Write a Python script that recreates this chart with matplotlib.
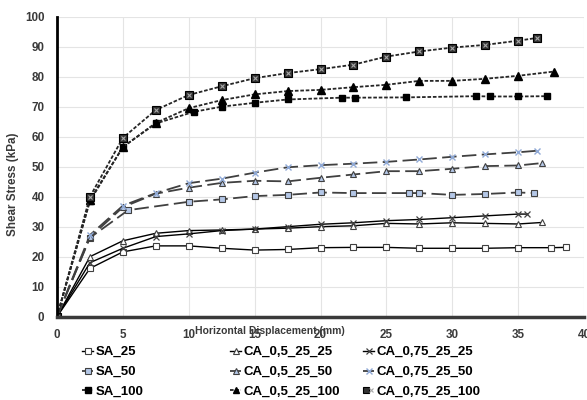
import matplotlib
matplotlib.use('Agg')
import matplotlib.pyplot as plt
from matplotlib.legend_handler import HandlerTuple

plt.rcParams['font.family'] = ['Liberation Sans', 'DejaVu Sans']

# data (x = horizontal displacement mm, y = shear stress kPa)
sa25_x = [0, 2.5, 5, 7.5, 10, 12.5, 15, 17.5, 20, 22.5, 25, 27.5, 30, 32.5, 35, 37.5, 38.6]
sa25_y = [0, 16.1, 21.6, 23.6, 23.6, 22.8, 22.2, 22.4, 23.0, 23.1, 23.1, 22.8, 22.8, 22.8, 23.0, 23.0, 23.1]

ca05_25_x = [0, 2.5, 5, 7.5, 10, 12.5, 15, 17.5, 20, 22.5, 25, 27.5, 30, 32.5, 35, 36.8]
ca05_25_y = [0, 20.0, 25.3, 27.8, 28.7, 28.9, 29.2, 29.5, 30.0, 30.3, 31.1, 30.9, 31.3, 31.1, 30.9, 31.4]

ca075_25_x = [0, 2.5, 5, 7.5, 10, 12.5, 15, 17.5, 20, 22.5, 25, 27.5, 30, 32.5, 35, 35.7]
ca075_25_y = [0, 18.0, 22.8, 26.7, 27.6, 28.7, 29.2, 30.0, 30.8, 31.3, 32.0, 32.4, 33.0, 33.6, 34.2, 34.2]

sa50_x = [0, 2.5, 5.4, 10, 12.5, 15, 17.5, 20, 22.5, 26.7, 27.5, 30, 32.5, 35, 36.2]
sa50_y = [0, 26.3, 35.5, 38.3, 39.1, 40.2, 40.6, 41.4, 41.2, 41.2, 41.2, 40.6, 40.9, 41.4, 41.2]

ca05_50_x = [0, 2.5, 5, 7.5, 10, 12.5, 15, 17.5, 20, 22.5, 25, 27.5, 30, 32.5, 35, 36.8]
ca05_50_y = [0, 26.5, 36.5, 41.0, 43.0, 44.6, 45.3, 45.1, 46.3, 47.4, 48.5, 48.5, 49.3, 50.2, 50.4, 51.2]

ca075_50_x = [0, 2.5, 5, 7.5, 10, 12.5, 15, 17.5, 20, 22.5, 25, 27.5, 30, 32.5, 35, 36.4]
ca075_50_y = [0, 27.2, 37.0, 41.2, 44.5, 46.0, 48.0, 49.8, 50.5, 51.0, 51.6, 52.4, 53.3, 54.1, 54.8, 55.3]

sa100_x = [0, 2.5, 5, 7.5, 10.4, 12.5, 15, 17.5, 21.6, 22.6, 26.5, 31.8, 32.9, 35, 37.2]
sa100_y = [0, 38.5, 56.6, 64.4, 68.3, 70.0, 71.3, 72.4, 73.0, 73.0, 73.1, 73.5, 73.4, 73.4, 73.5]

ca05_100_x = [0, 2.5, 5, 7.5, 10, 12.5, 15, 17.5, 20, 22.5, 25, 27.5, 30, 32.5, 35, 37.7]
ca05_100_y = [0, 39.0, 56.5, 64.6, 69.5, 72.2, 74.1, 75.2, 75.6, 76.5, 77.3, 78.6, 78.6, 79.3, 80.3, 81.7]

ca075_100_x = [0, 2.5, 5, 7.5, 10, 12.5, 15, 17.5, 20, 22.5, 25, 27.5, 30, 32.5, 35, 36.4]
ca075_100_y = [0, 40.0, 59.6, 68.9, 73.9, 76.8, 79.5, 81.2, 82.5, 84.0, 86.7, 88.4, 89.7, 90.6, 92.0, 92.9]

blue = '#b4c7e7'
dark = '#404040'
solid = dict(color='black', lw=1.0)
dash50 = dict(color=dark, lw=1.3, dashes=(8, 3))
dash100 = dict(color='#262626', lw=1.3, dashes=(2, 1))

fig = plt.figure(figsize=(5.87, 4.0), dpi=100)
ax = fig.add_axes([0.0971, 0.2083, 0.8978, 0.75])

h = {}
h['SA_25'], = ax.plot(sa25_x, sa25_y, marker='s', ms=4.5, mfc='white', mec=dark, mew=0.8, **solid)
h['CA_0,5_25_25'], = ax.plot(ca05_25_x, ca05_25_y, marker='^', ms=5, mfc='white', mec=dark, mew=0.8, **solid)
h['CA_0,75_25_25'], = ax.plot(ca075_25_x, ca075_25_y, marker='x', ms=5, mec=dark, mew=0.9, **solid)

h['SA_50'], = ax.plot(sa50_x, sa50_y, marker='s', ms=4.5, mfc=blue, mec=dark, mew=0.8, **dash50)
h['CA_0,5_25_50'], = ax.plot(ca05_50_x, ca05_50_y, marker='^', ms=5, mfc=blue, mec=dark, mew=0.8, **dash50)
h['CA_0,75_25_50'], = ax.plot(ca075_50_x, ca075_50_y, marker='x', ms=5, mec='#8fa9d6', mew=1.0, **dash50)

h['SA_100'], = ax.plot(sa100_x, sa100_y, marker='s', ms=4.8, mfc='black', mec='black', **dash100)
h['CA_0,5_25_100'], = ax.plot(ca05_100_x, ca05_100_y, marker='^', ms=5.5, mfc='black', mec='black', **dash100)
sq, = ax.plot(ca075_100_x, ca075_100_y, marker='s', ms=5.2, mfc='#333333', mec='black', mew=0.8, **dash100)
xx, = ax.plot(ca075_100_x, ca075_100_y, ls='none', marker='x', ms=3.5, mec='#a8a8a8', mew=0.8)
h['CA_0,75_25_100'] = (sq, xx)

ax.set_xlim(0, 40)
ax.set_ylim(0, 100)
ax.set_xticks(range(0, 41, 5))
ax.set_yticks(range(0, 101, 10))
ax.grid(True, color='#e4e4e4', lw=0.8)
ax.set_axisbelow(True)
for s in ['top', 'right']:
    ax.spines[s].set_visible(False)
ax.spines['left'].set_linewidth(2)
ax.spines['left'].set_color('black')
ax.spines['bottom'].set_linewidth(2.5)
ax.spines['bottom'].set_color('#3a3a3a')
ax.tick_params(length=0, pad=9, labelsize=8.4, labelcolor='#3a3a3a')
for lab in ax.get_xticklabels() + ax.get_yticklabels():
    lab.set_fontweight('bold')

ax.set_ylabel('Shear Stress (kPa)', fontsize=8.4, fontweight='bold', color='#3a3a3a')
ax.yaxis.set_label_coords(-0.073, 0.442)
ax.set_xlabel('Horizontal Displacement (mm)', fontsize=7.5, fontweight='bold', color='#3a3a3a')
ax.xaxis.set_label_coords(0.404, -0.03)

columns = [['SA_25', 'SA_50', 'SA_100'],
           ['CA_0,5_25_25', 'CA_0,5_25_50', 'CA_0,5_25_100'],
           ['CA_0,75_25_25', 'CA_0,75_25_50', 'CA_0,75_25_100']]
col_x = [82 / 587, 230 / 587, 363 / 587]
for names, cx in zip(columns, col_x):
    fig.legend([h[n] for n in names], names, loc='upper left', bbox_to_anchor=(cx, 0.135),
               frameon=False, prop={'size': 9.5, 'weight': 'bold'},
               handlelength=0.85, handletextpad=0.2, markerscale=0.85,
               labelspacing=0.58, borderpad=0, borderaxespad=0,
               handler_map={tuple: HandlerTuple(ndivide=None, pad=0)})

fig.savefig('out.png', dpi=100)
